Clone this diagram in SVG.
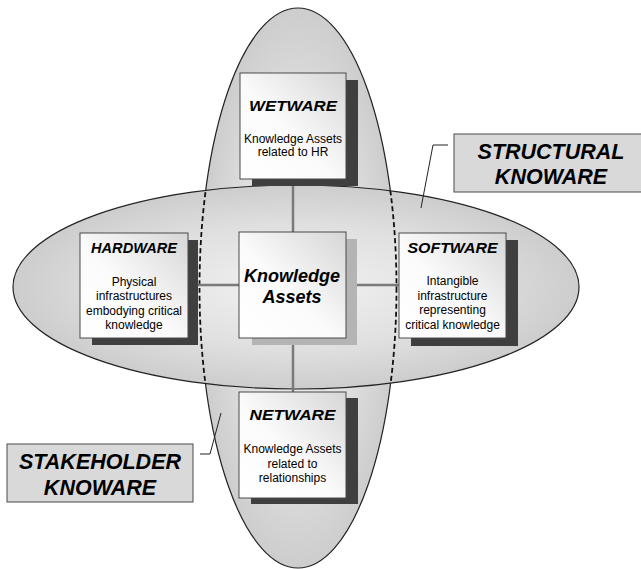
<svg xmlns="http://www.w3.org/2000/svg" width="641" height="569" viewBox="0 0 641 569">
  <defs>
    <radialGradient id="blobFill" cx="50%" cy="50%" r="50%">
      <stop offset="0" stop-color="#f2f2f2"/>
      <stop offset="0.6" stop-color="#e0e0e0"/>
      <stop offset="1" stop-color="#cdcdcd"/>
    </radialGradient>
    <linearGradient id="boxFill" x1="0" y1="1" x2="1" y2="0">
      <stop offset="0" stop-color="#ffffff"/>
      <stop offset="0.45" stop-color="#fbfbfb"/>
      <stop offset="1" stop-color="#d6d6d6"/>
    </linearGradient>
    <clipPath id="hClip">
      <ellipse cx="296" cy="287" rx="283" ry="102"/>
    </clipPath>
    <style>
      .blob { fill: url(#blobFill); stroke: #222; stroke-width: 1.2; }
      .dash { fill: none; stroke: #111; stroke-width: 1.8; stroke-dasharray: 5 3; }
      .link { stroke: #7a7a7a; stroke-width: 2.5; fill: none; }
      .leader { stroke: #222; stroke-width: 1; fill: none; }
      .shadow { fill: #3f3f3f; }
      .shadow-lt { fill: #b4b4b4; }
      .box { fill: url(#boxFill); stroke: #4a4a4a; stroke-width: 1; }
      .tag { fill: #d9d9d9; stroke: #4a4a4a; stroke-width: 1; }
      .title { font-family: "Liberation Sans", Arial, sans-serif; font-weight: bold; font-style: italic; font-size: 15.5px; fill: #000; text-anchor: middle; }
      .body { font-family: "Liberation Sans", Arial, sans-serif; font-size: 12px; fill: #000; text-anchor: middle; }
      .core { font-family: "Liberation Sans", Arial, sans-serif; font-weight: bold; font-style: italic; font-size: 18px; fill: #000; text-anchor: middle; }
      .tagtext { font-family: "Liberation Sans", Arial, sans-serif; font-weight: bold; font-style: italic; font-size: 21.5px; fill: #000; text-anchor: middle; }
    </style>
  </defs>

  <rect width="641" height="569" fill="#ffffff"/>

  <!-- two overlapping knoware regions -->
  <g id="regions">
    <ellipse class="blob" cx="298" cy="288" rx="98.5" ry="280"/>
    <ellipse class="blob" cx="296" cy="287" rx="283" ry="102"/>
    <ellipse class="dash" cx="298" cy="288" rx="98.5" ry="280" clip-path="url(#hClip)"/>
  </g>

  <!-- connectors and leaders -->
  <g id="connectors">
    <line class="link" x1="293" y1="179" x2="293" y2="232"/>
    <line class="link" x1="293" y1="338" x2="293" y2="392"/>
    <line class="link" x1="188" y1="285" x2="239" y2="285"/>
    <line class="link" x1="346" y1="285" x2="399" y2="285"/>
    <polyline class="leader" points="448,145 433,145 421,208"/>
    <polyline class="leader" points="200,454 210,454 221,413"/>
  </g>

  <g id="wetware">
    <rect class="shadow" x="252" y="80" width="106" height="106"/>
    <rect class="box" x="240" y="73" width="106" height="106"/>
    <text class="title" x="293" y="111" textLength="88" lengthAdjust="spacingAndGlyphs">WETWARE</text>
    <text class="body" x="293" y="143">Knowledge Assets</text>
    <text class="body" x="293" y="156">related to HR</text>
  </g>

  <g id="hardware">
    <rect class="shadow" x="92" y="240" width="106" height="105"/>
    <rect class="box" x="80" y="233" width="108" height="105"/>
    <text class="title" x="134" y="253" textLength="86" lengthAdjust="spacingAndGlyphs">HARDWARE</text>
    <text class="body" x="134" y="285.5">Physical</text>
    <text class="body" x="134" y="300">infrastructures</text>
    <text class="body" x="134" y="314.5">embodying critical</text>
    <text class="body" x="134" y="329">knowledge</text>
  </g>

  <g id="knowledge-assets">
    <rect class="shadow-lt" x="252" y="239" width="105" height="106"/>
    <rect class="box" x="239" y="232" width="107" height="106"/>
    <text class="core" x="292" y="282">Knowledge</text>
    <text class="core" x="292" y="302.5">Assets</text>
  </g>

  <g id="software">
    <rect class="shadow" x="411" y="240" width="107" height="106"/>
    <rect class="box" x="399" y="233" width="107" height="105"/>
    <text class="title" x="452.5" y="253" textLength="90" lengthAdjust="spacingAndGlyphs">SOFTWARE</text>
    <text class="body" x="452.5" y="285">Intangible</text>
    <text class="body" x="452.5" y="299.5">infrastructure</text>
    <text class="body" x="452.5" y="314">representing</text>
    <text class="body" x="452.5" y="328.5">critical knowledge</text>
  </g>

  <g id="netware">
    <rect class="shadow" x="251" y="398" width="107" height="106"/>
    <rect class="box" x="239" y="392" width="107" height="106"/>
    <text class="title" x="292.5" y="420" textLength="86" lengthAdjust="spacingAndGlyphs">NETWARE</text>
    <text class="body" x="292.5" y="453">Knowledge Assets</text>
    <text class="body" x="292.5" y="467.5">related to</text>
    <text class="body" x="292.5" y="482">relationships</text>
  </g>

  <g id="structural-knoware">
    <rect class="tag" x="454" y="134" width="192" height="58"/>
    <text class="tagtext" x="551" y="159">STRUCTURAL</text>
    <text class="tagtext" x="551" y="184">KNOWARE</text>
  </g>

  <g id="stakeholder-knoware">
    <rect class="tag" x="7" y="444" width="186" height="58"/>
    <text class="tagtext" x="100" y="469">STAKEHOLDER</text>
    <text class="tagtext" x="100" y="495">KNOWARE</text>
  </g>
</svg>
